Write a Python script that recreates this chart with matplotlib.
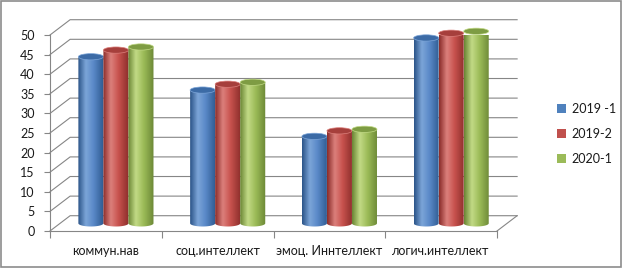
import numpy as np
import matplotlib.pyplot as plt
from matplotlib.patches import Rectangle, Ellipse, Patch, PathPatch
from matplotlib.path import Path
from matplotlib.colors import LinearSegmentedColormap

plt.rcParams['font.family'] = ['Lato', 'DejaVu Sans']

categories = ['коммун.нав', 'соц.интеллект', 'эмоц. Иннтеллект', 'логич.интеллект']
s2019_1 = [42.5, 34.0, 22.2, 47.3]
s2019_2 = [44.2, 35.5, 23.6, 48.5]
s2020_1 = [45.0, 36.0, 24.0, 49.0]
series_names = ['2019 -1', '2019-2', '2020-1']
yticks = list(range(0, 55, 5))

base_cols = ['#4F81BD', '#C0504D', '#9BBB59']
grad_cols = [
    ['#2B5488', '#7CA5D8', '#5A89C8', '#2E5A90'],
    ['#8A2C2A', '#DC807C', '#C8524E', '#8C2E2B'],
    ['#6A8534', '#C2DA86', '#9CBC58', '#6C8836'],
]
top_cols = ['#3C6BA6', '#A63F3C', '#7E9C43']
txt_c = '#1a1a1a'
fs = 9

fig = plt.figure(figsize=(6.22, 2.68), dpi=100)
ax = fig.add_axes([50 / 622, 37 / 268, 447 / 622, 196 / 268])
ax.set_xlim(-0.5, 3.5)
ax.set_ylim(0, 50)

# fake depth of the 3-D box
dx, dy = 0.18, 3.9
grid_c = '#868686'
for v in yticks:
    ax.plot([-0.5, -0.5 + dx, 3.5 + dx], [v, v + dy, v + dy],
            color=grid_c, lw=0.8, clip_on=False, zorder=1)
ax.plot([3.5, 3.5 + dx], [0, dy], color=grid_c, lw=0.8, clip_on=False, zorder=1)

w = 0.224
eh = 1.6
grad = np.linspace(0, 1, 64).reshape(1, -1)
for j, vals in enumerate([s2019_1, s2019_2, s2020_1]):
    cmap = LinearSegmentedColormap.from_list(
        'c%d' % j, list(zip([0, 0.3, 0.6, 1.0], grad_cols[j])))
    for i, v in enumerate(vals):
        xc = i + dx / 2 + (j - 1) * w
        x0 = xc - w / 2
        y0 = dy / 2
        t = np.linspace(np.pi, 2 * np.pi, 30)
        verts = [(x0, y0 + v), (x0, y0)]
        verts += list(zip(xc + w / 2 * np.cos(t), y0 + eh / 2 * np.sin(t)))
        verts += [(x0 + w, y0 + v), (x0, y0 + v)]
        body = PathPatch(Path(verts), transform=ax.transData, fc='none', ec='none')
        im = ax.imshow(grad, cmap=cmap, extent=[x0, x0 + w, y0 - eh, y0 + v],
                       aspect='auto', interpolation='bicubic', zorder=3 + j)
        im.set_clip_path(body)
        im.set_clip_on(True)
        ax.add_patch(Ellipse((xc, y0 + v), w, eh, fc=top_cols[j],
                             ec=grad_cols[j][1], lw=0.5, zorder=3.5 + j,
                             clip_on=False))

ax.set_xlim(-0.5, 3.5)
ax.set_ylim(0, 50)

for s in ['top', 'right']:
    ax.spines[s].set_visible(False)
for s in ['left', 'bottom']:
    ax.spines[s].set_color(grid_c)
    ax.spines[s].set_linewidth(0.8)

ax.set_yticks(yticks)
ax.tick_params(axis='y', length=4, color=grid_c, pad=7, labelsize=fs, labelcolor=txt_c)
ax.set_xticks([-0.5, 0.5, 1.5, 2.5, 3.5])
ax.set_xticklabels([])
ax.tick_params(axis='x', which='major', length=5, color=grid_c)
ax.set_xticks(range(len(categories)), minor=True)
ax.set_xticklabels(categories, minor=True)
ax.tick_params(axis='x', which='minor', length=0, pad=10, labelsize=fs, labelcolor=txt_c)

handles = [Patch(fc=c, ec='none') for c in base_cols]
fig.legend(handles, series_names, loc='center left', bbox_to_anchor=(546 / 622, 1 - 134 / 268),
           frameon=False, handlelength=0.7, handleheight=0.7, handletextpad=0.45,
           labelspacing=1.05, fontsize=fs, labelcolor=txt_c)

fig.patches.append(Rectangle((0.001, 0.002), 0.997, 0.995, transform=fig.transFigure,
                             fill=False, ec='#8c8c8c', lw=1.2))

fig.savefig('out.png', dpi=100)
